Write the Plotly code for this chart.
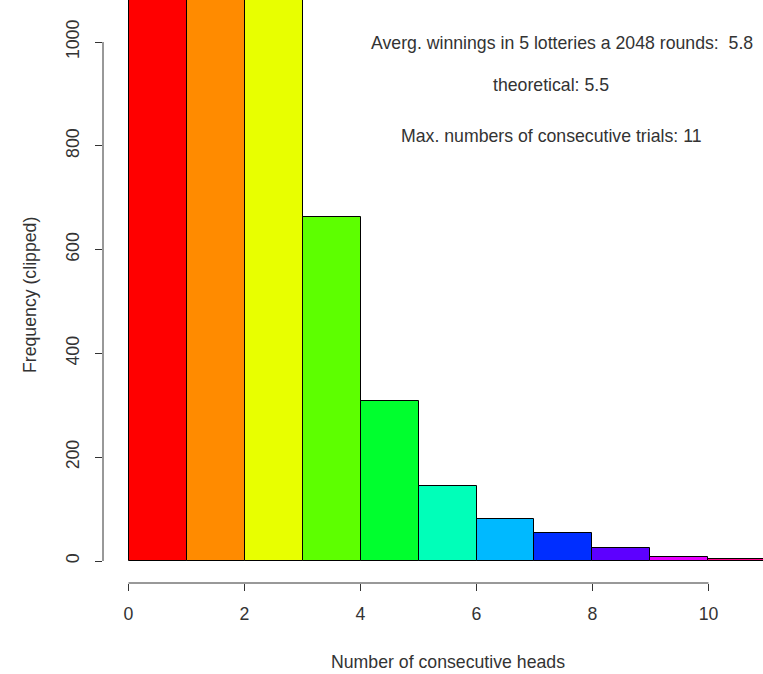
import plotly.graph_objects as go

bin_left = [0, 1, 2, 3, 4, 5, 6, 7, 8, 9, 10]
counts = [5200, 2600, 1330, 663, 308, 145, 81, 54, 25, 7, 4]
colors = ["#FF0000", "#FF8B00", "#E8FF00", "#5DFF00", "#00FF2E", "#00FFB9",
          "#00B9FF", "#002EFF", "#5D00FF", "#E800FF", "#FF008B"]
x_ticks = [0, 2, 4, 6, 8, 10]
y_ticks = [0, 200, 400, 600, 800, 1000]
notes = ["Averg. winnings in 5 lotteries a 2048 rounds:  5.8",
         "theoretical: 5.5",
         "Max. numbers of consecutive trials: 11"]
note_y = [998, 917, 819]
note_x = [7.48, 7.29, 7.29]

font = "Liberation Sans, Arial, sans-serif"
fs = 17.7
tc = "#333"

fig = go.Figure(go.Bar(
    x=[b + 0.5 for b in bin_left], y=counts, width=1,
    marker=dict(color=colors, line=dict(color="black", width=1)),
    hoverinfo="skip"))

W, H = 763, 674
L, R, T, B = 103, 0, 0, 91
pw, ph = W - L - R, H - T - B

fig.update_layout(
    width=W, height=H, margin=dict(l=L, r=R, t=T, b=B),
    plot_bgcolor="white", paper_bgcolor="white",
    font=dict(family=font, size=fs, color=tc),
    showlegend=False, bargap=0,
    xaxis=dict(range=[-0.44, 10.94], tickvals=x_ticks, ticks="outside",
               ticklen=7, tickcolor="#333", showgrid=False, zeroline=False,
               showline=False, ticklabelstandoff=8),
    yaxis=dict(range=[-42.4, 1081], tickvals=y_ticks, ticks="outside",
               ticklen=7, tickcolor="#333", showgrid=False, zeroline=False,
               showline=False, tickangle=-90, ticklabelstandoff=9),
)

fig.add_shape(type="line", xref="x", yref="paper", x0=0, x1=10, y0=0, y1=0,
              line=dict(color="#333", width=1))
fig.add_shape(type="line", xref="paper", yref="y", x0=0, x1=0, y0=0, y1=1000,
              line=dict(color="#333", width=1))

for t, xx, yy in zip(notes, note_x, note_y):
    fig.add_annotation(x=xx, y=yy, text=t.replace("  ", "&nbsp; "), showarrow=False,
                       xanchor="center", yanchor="middle",
                       font=dict(family=font, size=fs, color=tc))

fig.add_annotation(xref="paper", yref="paper", x=(30 - L) / pw, y=(H - B - 295) / ph,
                   text="Frequency (clipped)", textangle=-90, showarrow=False,
                   xanchor="center", yanchor="middle",
                   font=dict(family=font, size=fs, color=tc))
fig.add_annotation(xref="x", yref="paper", x=5.5, y=(H - B - 662) / ph,
                   text="Number of consecutive heads", showarrow=False,
                   xanchor="center", yanchor="middle",
                   font=dict(family=font, size=fs, color=tc))

fig.write_html("out.html", config={"displayModeBar": False},
               post_script="document.body.style.margin='0';")
